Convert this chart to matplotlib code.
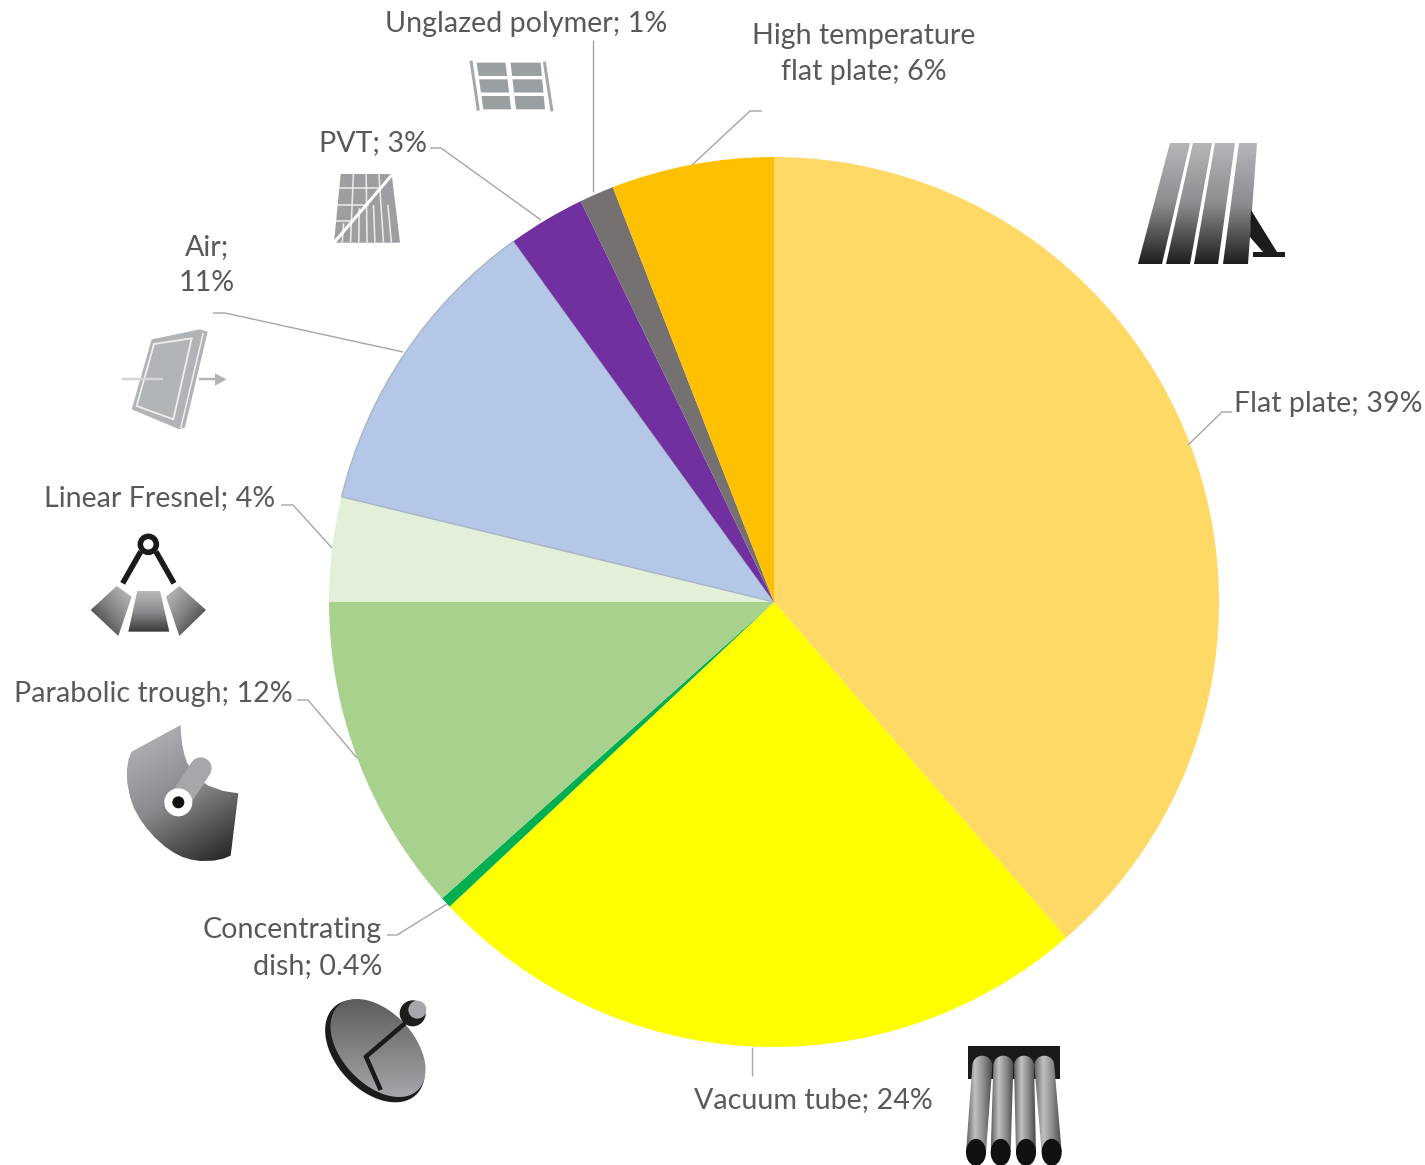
import numpy as np
import matplotlib
matplotlib.use("Agg")
import matplotlib.pyplot as plt
from matplotlib.patches import Polygon, Circle, Ellipse
from matplotlib.colors import LinearSegmentedColormap

W, H = 1425, 1165
categories = ["Flat plate", "Vacuum tube", "Concentrating dish", "Parabolic trough",
              "Linear Fresnel", "Air", "PVT", "Unglazed polymer", "High temperature flat plate"]
shares = [38.6, 24.4, 0.4, 11.6, 3.8, 11.25, 2.8, 1.25, 5.9]
colours = ["#FFD966", "#FFFF00", "#00B050", "#A9D18E", "#E2F0D9", "#B4C7E7", "#7030A0", "#767171", "#FFC000"]
label_texts = ["Flat plate; 39%", "Vacuum tube; 24%", "Concentrating\ndish; 0.4%", "Parabolic trough; 12%",
               "Linear Fresnel; 4%", "Air;\n11%", "PVT; 3%", "Unglazed polymer; 1%", "High temperature\nflat plate; 6%"]

plt.rcParams['font.family'] = ['Lato', 'DejaVu Sans']
fig = plt.figure(figsize=(W / 100, H / 100), dpi=100, facecolor="white")

cx, cy, r = 774, 602, 445
axp = fig.add_axes([(cx - r) / W, 1 - (cy + r) / H, 2 * r / W, 2 * r / H])
wedges, _ = axp.pie(shares, colors=colours, startangle=90, counterclock=False, radius=1,
                    wedgeprops=dict(linewidth=0))
wedges[5].set_edgecolor("#a9b4c6")
wedges[5].set_linewidth(1.0)
axp.set_xlim(-1, 1)
axp.set_ylim(-1, 1)
axp.axis("off")

ax = fig.add_axes([0, 0, 1, 1], zorder=5)
ax.patch.set_alpha(0)
ax.set_xlim(0, W)
ax.set_ylim(H, 0)
ax.axis("off")


def grad(points, stops, angle=90):
    """Fill polygon with a gradient; angle 90 = top to bottom, 0 = left to right."""
    pts = np.array(points, float)
    x0, y0 = pts.min(0)
    x1, y1 = pts.max(0)
    yy, xx = np.mgrid[0:1:128j, 0:1:128j]
    a = np.radians(angle)
    g = xx * np.cos(a) + yy * np.sin(a)
    g = (g - g.min()) / (g.max() - g.min())
    cm = LinearSegmentedColormap.from_list("g", stops)
    im = ax.imshow(g, extent=(x0, x1, y1, y0), cmap=cm, aspect="auto", zorder=6, origin="upper", interpolation="bilinear")
    clip = Polygon(pts, closed=True, transform=ax.transData, fc="none", ec="none")
    ax.add_patch(clip)
    im.set_clip_path(clip)
    return im


def zp(points, ox, oy):
    return [(ox + x / 3, oy + y / 3) for x, y in points]


def poly(points, fc, z=6, **kw):
    ax.add_patch(Polygon(points, closed=True, fc=fc, ec=kw.pop("ec", "none"), zorder=z, **kw))


def line(points, c, w, z=7, cap="butt", **kw):
    p = np.array(points, float)
    ax.plot(p[:, 0], p[:, 1], color=c, lw=w * 0.72, solid_capstyle=cap, zorder=z, solid_joinstyle="miter", **kw)


# leader lines
leaders = [
    [(1188, 445), (1222, 412), (1232, 412)],
    [(752, 1047), (752, 1076)],
    [(447, 904), (397, 935), (387, 935)],
    [(357, 758), (308, 700), (297, 700)],
    [(332, 548), (293, 505), (281, 505)],
    [(403, 352), (225, 313), (213, 313)],
    [(541, 220), (441, 148), (430, 148)],
    [(593, 192), (593, 40)],
    [(692, 165), (750, 111), (762, 111)],
]
for l in leaders:
    line(l, "#a6a6a6", 1.4, z=4)

# labels: (x, y, ha) y = centre of the block
label_pos = [(1234, 404, "left"), (694, 1100, "left"), (382, 948, "right"), (293, 694, "right"),
             (275, 498, "right"), (207, 265, "center"), (427, 143, "right"), (385, 24, "left"), (864, 54, "center")]
for t, (x, y, ha) in zip(label_texts, label_pos):
    ax.text(x, y, t, ha=ha, va="center", color="#595959", fontsize=20.6,
            linespacing=1.47, multialignment=ha, zorder=8)

steel = ["#b4b5b8", "#8c8d90", "#1e1e1e"]
# --- flat plate
tops = [(1170, 1190), (1193, 1212), (1215, 1235), (1239, 1257)]
bots = [(1138, 1162), (1166, 1190), (1194, 1218), (1223, 1248)]
for t, b in zip(tops, bots):
    grad([(t[0], 143), (t[1], 143), (b[1], 264), (b[0], 264)], steel)
poly([(1251, 210), (1277, 252), (1285, 252), (1285, 257), (1253, 257), (1253, 252), (1263, 252), (1250, 237)], "#1c1c1c")


def bil(c, u, v):
    tl, tr, br, bl = [np.array(p, float) for p in c]
    return tuple((1 - v) * ((1 - u) * tl + u * tr) + v * ((1 - u) * bl + u * br))


# --- unglazed polymer
cug = zp([(470, 38), (662, 38), (675, 178), (490, 178)], 320, 50)
for us in [(0, .45), (.53, 1)]:
    for vs in [(0, .285), (.357, .64), (.714, 1)]:
        poly([bil(cug, us[0], vs[0]), bil(cug, us[1], vs[0]), bil(cug, us[1], vs[1]), bil(cug, us[0], vs[1])], "#9a9fa2")
line(zp([(453, 32), (475, 182)], 320, 50), "#a3a8ab", 3)
line(zp([(673, 35), (696, 184)], 320, 50), "#a3a8ab", 3)

# --- PVT
cpv = zp([(62, 372), (215, 372), (240, 578), (42, 578)], 320, 50)
poly(cpv, "#9c9fa1")
for u in (.25, .5, .75):
    line([bil(cpv, u, 0), bil(cpv, u, 1)], "#e8e9ea", 1.6)
for u in (.62, .87):
    line([bil(cpv, u, .45), bil(cpv, u, 1)], "#e8e9ea", 1.6)
line([bil(cpv, .125, .72), bil(cpv, .125, 1)], "#e8e9ea", 1.6)
line([bil(cpv, .375, .5), bil(cpv, .375, 1)], "#e8e9ea", 1.6)
for v, ue in ((.2, .75), (.45, .55), (.68, .3)):
    line([bil(cpv, 0, v), bil(cpv, ue, v)], "#e8e9ea", 1.6)
line(zp([(218, 372), (42, 578)], 320, 50), "white", 3)

# --- air collector
air = "#b1b4b6"
poly(zp([(215, 58), (360, 28), (383, 35), (315, 322), (298, 328), (155, 268)], 80, 320), air)
poly(zp([(222, 72), (335, 55), (280, 298), (170, 258)], 80, 320), "none", ec="#eeeeee", z=7, lw=1.3)
line(zp([(370, 38), (302, 325)], 80, 320), "#eeeeee", 1.5)
line(zp([(125, 178), (250, 178)], 80, 320), "#d4d5d6", 2.5)
line(zp([(358, 178), (405, 178)], 80, 320), air, 2.5)
poly(zp([(405, 160), (440, 178), (405, 197)], 80, 320), air)

# --- linear Fresnel
line(zp([(182, 695), (128, 790)], 80, 320), "#1a1a1a", 5.5)
line(zp([(228, 695), (282, 790)], 80, 320), "#1a1a1a", 5.5)
ax.add_patch(Circle(zp([(205, 673)], 80, 320)[0], 8, fc="white", ec="#1a1a1a", lw=4, zorder=7))
grad(zp([(110, 798), (155, 830), (115, 948), (32, 870)], 80, 320), ["#c0c1c3", "#808184", "#2a2a2a"], 135)
grad(zp([(172, 812), (240, 812), (268, 935), (145, 935)], 80, 320), ["#b8b9bb", "#8c8d90", "#3a3a3a"])
grad(zp([(298, 798), (258, 830), (298, 948), (378, 870)], 80, 320), ["#c0c1c3", "#808184", "#2a2a2a"], 45)

# --- parabolic trough
trough = [(212, 30), (213, 55), (216, 85), (222, 115), (230, 140), (243, 165), (262, 190), (295, 212), (340, 228),
          (385, 235), (362, 422), (340, 431), (310, 437), (270, 438), (240, 433), (215, 425), (190, 412), (165, 395),
          (135, 368), (110, 340), (90, 312), (72, 280), (60, 245), (52, 205), (50, 170), (55, 135), (65, 110)]
grad(zp(trough, 110, 715), ["#b8b9bc", "#8a8b8e", "#1e1e1e"], 65)
line(zp([(205, 262), (272, 160)], 110, 715), "#a5a7aa", 22, cap="round")
ccirc = zp([(205, 262)], 110, 715)[0]
ax.add_patch(Circle(ccirc, 14, fc="white", ec="none", zorder=8))
ax.add_patch(Circle(ccirc, 6, fc="#111111", ec="none", zorder=9))

# --- dish
t = np.linspace(0, 2 * np.pi, 100)
ang = np.radians(47)


def ell(c, a, b):
    return [(c[0] + a * np.cos(s) * np.cos(ang) - b * np.sin(s) * np.sin(ang),
             c[1] + a * np.cos(s) * np.sin(ang) + b * np.sin(s) * np.cos(ang)) for s in t]


poly(ell((375, 1051), 60, 39), "#1c1c1c")
grad(ell((378, 1048), 58, 36), ["#5c5c5e", "#a6a7aa"])
line(zp([(885, 925), (768, 1025), (812, 1125)], 110, 715), "#1a1a1a", 4.5)
ax.add_patch(Circle(zp([(908, 895)], 110, 715)[0], 13, fc="#1c1c1c", ec="none", zorder=8))
ax.add_patch(Circle(zp([(922, 884)], 110, 715)[0], 9, fc="#a6a7aa", ec="none", zorder=9))

# --- vacuum tube
poly(zp([(55, 32), (330, 32), (330, 132), (55, 132)], 950, 1035), "#1a1a1a")
top_x = [97, 160, 222, 283]
bot_x = [78, 152, 228, 305]
for a, b in zip(top_x, bot_x):
    hw = 30
    s = np.linspace(np.pi, 2 * np.pi, 20)
    arc = [(a + hw * np.cos(q), 92 + 30 * np.sin(q)) for q in s]
    shape = arc + [(b + hw, 352), (b - hw, 352)]
    im = grad(zp(shape, 950, 1035), ["#606062", "#c0c1c3", "#8a8a8c", "#48484a"], 0)
    im.set_zorder(7)
    ax.add_patch(Ellipse(zp([(b, 352)], 950, 1035)[0], 20, 27, fc="#111111", ec="none", zorder=8))

ax.set_xlim(0, W)
ax.set_ylim(H, 0)
fig.savefig("out.png", dpi=100)
